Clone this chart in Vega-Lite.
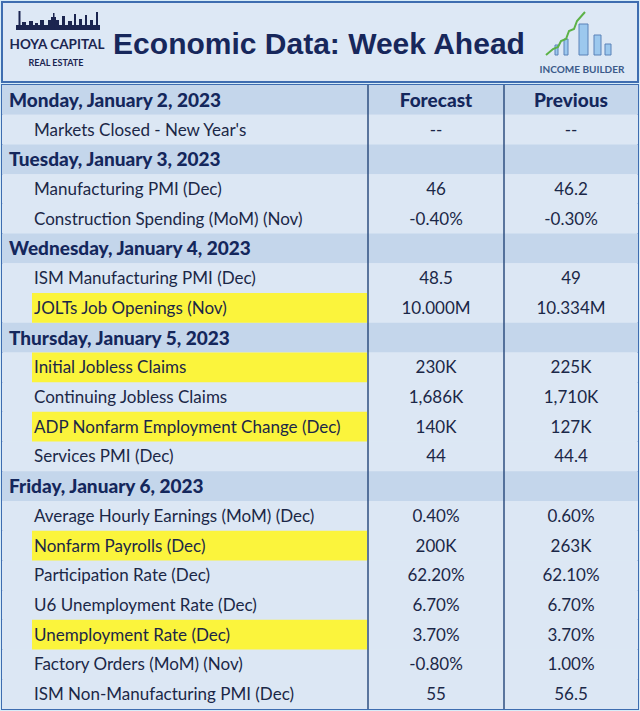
{
  "$schema": "https://vega.github.io/schema/vega-lite/v6.json",
  "background": "#d7ecf8",
  "padding": {"left": 1, "top": 1, "right": 3, "bottom": 6},
  "spacing": 0,
  "config": {
    "view": {"fill": "#dde8f5", "stroke": "#3e6db0", "strokeWidth": 2},
    "concat": {"spacing": 0}
  },
  "datasets": {
    "skyline": [
      {"x": 14, "x2": 98, "top": 23, "bottom": 28},
      {"x": 16.5, "x2": 18.5, "top": 9, "bottom": 28},
      {"x": 20, "x2": 24, "top": 20, "bottom": 28},
      {"x": 27, "x2": 31, "top": 19, "bottom": 28},
      {"x": 33, "x2": 36, "top": 21, "bottom": 28},
      {"x": 38, "x2": 42, "top": 18, "bottom": 28},
      {"x": 46, "x2": 57, "top": 18, "bottom": 28},
      {"x": 49, "x2": 54, "top": 15, "bottom": 28},
      {"x": 51, "x2": 52.5, "top": 11, "bottom": 28},
      {"x": 60, "x2": 63, "top": 14, "bottom": 28},
      {"x": 66, "x2": 70, "top": 19, "bottom": 28},
      {"x": 72, "x2": 74, "top": 12, "bottom": 28},
      {"x": 77, "x2": 80, "top": 17, "bottom": 28},
      {"x": 83, "x2": 85, "top": 13, "bottom": 28},
      {"x": 88, "x2": 91, "top": 18, "bottom": 28},
      {"x": 94, "x2": 96, "top": 10, "bottom": 28}
    ],
    "buildings": [
      {"x": 553, "x2": 556, "top": 43, "bottom": 53},
      {"x": 562, "x2": 566, "top": 37, "bottom": 53},
      {"x": 577, "x2": 586, "top": 22, "bottom": 53},
      {"x": 592, "x2": 599, "top": 33, "bottom": 53},
      {"x": 603, "x2": 609, "top": 42, "bottom": 53}
    ],
    "arrow": [
      {"i": 0, "x": 544, "y": 53},
      {"i": 1, "x": 551, "y": 47},
      {"i": 2, "x": 556, "y": 45},
      {"i": 3, "x": 559, "y": 39},
      {"i": 4, "x": 564, "y": 37},
      {"i": 5, "x": 567, "y": 29},
      {"i": 6, "x": 572, "y": 27},
      {"i": 7, "x": 575, "y": 19},
      {"i": 8, "x": 583, "y": 10}
    ],
    "headerText": [
      {"t": "HOYA CAPITAL", "x": 55, "y": 47, "kind": "logo"},
      {"t": "REAL ESTATE", "x": 54, "y": 64, "kind": "sub"},
      {"t": "INCOME BUILDER", "x": 580, "y": 71, "kind": "ib"}
    ],
    "rows": [
      {"row": 0, "kind": "day", "hl": false, "label": "Monday, January 2, 2023", "forecast": "Forecast", "previous": "Previous"},
      {"row": 1, "kind": "item", "hl": false, "label": "Markets Closed - New Year's", "forecast": "--", "previous": "--"},
      {"row": 2, "kind": "day", "hl": false, "label": "Tuesday, January 3, 2023", "forecast": "", "previous": ""},
      {"row": 3, "kind": "item", "hl": false, "label": "Manufacturing PMI (Dec)", "forecast": "46", "previous": "46.2"},
      {"row": 4, "kind": "item", "hl": false, "label": "Construction Spending (MoM) (Nov)", "forecast": "-0.40%", "previous": "-0.30%"},
      {"row": 5, "kind": "day", "hl": false, "label": "Wednesday, January 4, 2023", "forecast": "", "previous": ""},
      {"row": 6, "kind": "item", "hl": false, "label": "ISM Manufacturing PMI (Dec)", "forecast": "48.5", "previous": "49"},
      {"row": 7, "kind": "item", "hl": true, "label": "JOLTs Job Openings (Nov)", "forecast": "10.000M", "previous": "10.334M"},
      {"row": 8, "kind": "day", "hl": false, "label": "Thursday, January 5, 2023", "forecast": "", "previous": ""},
      {"row": 9, "kind": "item", "hl": true, "label": "Initial Jobless Claims", "forecast": "230K", "previous": "225K"},
      {"row": 10, "kind": "item", "hl": false, "label": "Continuing Jobless Claims", "forecast": "1,686K", "previous": "1,710K"},
      {"row": 11, "kind": "item", "hl": true, "label": "ADP Nonfarm Employment Change (Dec)", "forecast": "140K", "previous": "127K"},
      {"row": 12, "kind": "item", "hl": false, "label": "Services PMI (Dec)", "forecast": "44", "previous": "44.4"},
      {"row": 13, "kind": "day", "hl": false, "label": "Friday, January 6, 2023", "forecast": "", "previous": ""},
      {"row": 14, "kind": "item", "hl": false, "label": "Average Hourly Earnings (MoM) (Dec)", "forecast": "0.40%", "previous": "0.60%"},
      {"row": 15, "kind": "item", "hl": true, "label": "Nonfarm Payrolls (Dec)", "forecast": "200K", "previous": "263K"},
      {"row": 16, "kind": "item", "hl": false, "label": "Participation Rate (Dec)", "forecast": "62.20%", "previous": "62.10%"},
      {"row": 17, "kind": "item", "hl": false, "label": "U6 Unemployment Rate (Dec)", "forecast": "6.70%", "previous": "6.70%"},
      {"row": 18, "kind": "item", "hl": true, "label": "Unemployment Rate (Dec)", "forecast": "3.70%", "previous": "3.70%"},
      {"row": 19, "kind": "item", "hl": false, "label": "Factory Orders (MoM) (Nov)", "forecast": "-0.80%", "previous": "1.00%"},
      {"row": 20, "kind": "item", "hl": false, "label": "ISM Non-Manufacturing PMI (Dec)", "forecast": "55", "previous": "56.5"}
    ]
  },
  "vconcat": [
    {
      "width": 636,
      "height": 80,
      "layer": [
        {
          "data": {"name": "skyline"},
          "mark": {"type": "rect", "color": "#1b2550"},
          "encoding": {
            "x": {"field": "x", "type": "quantitative", "scale": {"domain": [0, 636], "nice": false, "zero": false}, "axis": null},
            "x2": {"field": "x2"},
            "y": {"field": "top", "type": "quantitative", "scale": {"domain": [0, 80], "nice": false, "zero": false, "reverse": true}, "axis": null},
            "y2": {"field": "bottom"}
          }
        },
        {
          "data": {"name": "buildings"},
          "mark": {"type": "rect", "color": "#9cc8ee", "stroke": "#5b82b8", "strokeWidth": 1},
          "encoding": {
            "x": {"field": "x", "type": "quantitative", "scale": {"domain": [0, 636], "nice": false, "zero": false}, "axis": null},
            "x2": {"field": "x2"},
            "y": {"field": "top", "type": "quantitative", "scale": {"domain": [0, 80], "nice": false, "zero": false, "reverse": true}, "axis": null},
            "y2": {"field": "bottom"}
          }
        },
        {
          "data": {"name": "arrow"},
          "mark": {"type": "line", "color": "#5cb247", "strokeWidth": 2},
          "encoding": {
            "x": {"field": "x", "type": "quantitative", "scale": {"domain": [0, 636], "nice": false, "zero": false}, "axis": null},
            "y": {"field": "y", "type": "quantitative", "scale": {"domain": [0, 80], "nice": false, "zero": false, "reverse": true}, "axis": null},
            "order": {"field": "i"}
          }
        },
        {
          "data": {"name": "headerText"},
          "transform": [{"filter": "datum.kind == 'logo'"}],
          "mark": {"type": "text", "font": "Lato, sans-serif", "fontSize": 13.5, "fontWeight": "bold", "color": "#1b2550", "align": "center", "baseline": "alphabetic"},
          "encoding": {
            "x": {"field": "x", "type": "quantitative", "scale": {"domain": [0, 636], "nice": false, "zero": false}, "axis": null},
            "y": {"field": "y", "type": "quantitative", "scale": {"domain": [0, 80], "nice": false, "zero": false, "reverse": true}, "axis": null},
            "text": {"field": "t"}
          }
        },
        {
          "data": {"name": "headerText"},
          "transform": [{"filter": "datum.kind == 'sub'"}],
          "mark": {"type": "text", "font": "Lato, sans-serif", "fontSize": 9, "fontWeight": "bold", "color": "#1b2550", "align": "center", "baseline": "alphabetic"},
          "encoding": {
            "x": {"field": "x", "type": "quantitative", "scale": {"domain": [0, 636], "nice": false, "zero": false}, "axis": null},
            "y": {"field": "y", "type": "quantitative", "scale": {"domain": [0, 80], "nice": false, "zero": false, "reverse": true}, "axis": null},
            "text": {"field": "t"}
          }
        },
        {
          "data": {"name": "headerText"},
          "transform": [{"filter": "datum.kind == 'ib'"}],
          "mark": {"type": "text", "font": "Lato, sans-serif", "fontSize": 10, "fontWeight": "bold", "color": "#3b5a8a", "align": "center", "baseline": "alphabetic"},
          "encoding": {
            "x": {"field": "x", "type": "quantitative", "scale": {"domain": [0, 636], "nice": false, "zero": false}, "axis": null},
            "y": {"field": "y", "type": "quantitative", "scale": {"domain": [0, 80], "nice": false, "zero": false, "reverse": true}, "axis": null},
            "text": {"field": "t"}
          }
        },
        {
          "data": {"values": [{"t": "Economic Data: Week Ahead", "x": 317, "y": 52}]},
          "mark": {"type": "text", "font": "Liberation Sans, Arial, sans-serif", "fontSize": 30, "fontWeight": "bold", "color": "#17275b", "align": "center", "baseline": "alphabetic"},
          "encoding": {
            "x": {"field": "x", "type": "quantitative", "scale": {"domain": [0, 636], "nice": false, "zero": false}, "axis": null},
            "y": {"field": "y", "type": "quantitative", "scale": {"domain": [0, 80], "nice": false, "zero": false, "reverse": true}, "axis": null},
            "text": {"field": "t"}
          }
        }
      ]
    },
    {
      "width": 636,
      "height": 624,
      "data": {"name": "rows"},
      "encoding": {
        "y": {"field": "row", "type": "ordinal", "scale": {"paddingInner": 0, "paddingOuter": 0}, "axis": null}
      },
      "layer": [
        {
          "mark": {"type": "rect"},
          "encoding": {
            "x": {"datum": 0, "type": "quantitative", "scale": {"domain": [0, 636], "nice": false, "zero": false}, "axis": null},
            "x2": {"datum": 636},
            "color": {"field": "kind", "type": "nominal", "scale": {"domain": ["day", "item"], "range": ["#c4d6eb", "#dce7f4"]}, "legend": null}
          }
        },
        {
          "transform": [{"filter": "datum.hl"}],
          "mark": {"type": "rect", "color": "#fbf43c"},
          "encoding": {
            "x": {"datum": 30, "type": "quantitative"},
            "x2": {"datum": 365}
          }
        },
        {
          "data": {"values": [{"c": 366}, {"c": 502}]},
          "mark": {"type": "rule", "color": "#2f4f80", "strokeWidth": 1.5},
          "encoding": {
            "x": {"field": "c", "type": "quantitative"},
            "y": null
          }
        },
        {
          "transform": [{"filter": "datum.kind == 'day'"}],
          "mark": {"type": "text", "font": "Lato, sans-serif", "fontSize": 19, "fontWeight": 900, "color": "#14275c", "align": "left", "baseline": "middle", "dy": 1},
          "encoding": {
            "x": {"datum": 7, "type": "quantitative"},
            "text": {"field": "label"}
          }
        },
        {
          "transform": [{"filter": "datum.kind == 'item'"}],
          "mark": {"type": "text", "font": "Lato, sans-serif", "fontSize": 17, "color": "#1b2747", "align": "left", "baseline": "middle", "dy": 1},
          "encoding": {
            "x": {"datum": 32, "type": "quantitative"},
            "text": {"field": "label"}
          }
        },
        {
          "transform": [{"filter": "datum.kind == 'day'"}],
          "mark": {"type": "text", "font": "Lato, sans-serif", "fontSize": 19, "fontWeight": 900, "color": "#14275c", "align": "center", "baseline": "middle", "dy": 1},
          "encoding": {
            "x": {"datum": 434, "type": "quantitative"},
            "text": {"field": "forecast"}
          }
        },
        {
          "transform": [{"filter": "datum.kind == 'day'"}],
          "mark": {"type": "text", "font": "Lato, sans-serif", "fontSize": 19, "fontWeight": 900, "color": "#14275c", "align": "center", "baseline": "middle", "dy": 1},
          "encoding": {
            "x": {"datum": 569, "type": "quantitative"},
            "text": {"field": "previous"}
          }
        },
        {
          "transform": [{"filter": "datum.kind == 'item'"}],
          "mark": {"type": "text", "font": "Lato, sans-serif", "fontSize": 17, "color": "#1b2747", "align": "center", "baseline": "middle", "dy": 1},
          "encoding": {
            "x": {"datum": 434, "type": "quantitative"},
            "text": {"field": "forecast"}
          }
        },
        {
          "transform": [{"filter": "datum.kind == 'item'"}],
          "mark": {"type": "text", "font": "Lato, sans-serif", "fontSize": 17, "color": "#1b2747", "align": "center", "baseline": "middle", "dy": 1},
          "encoding": {
            "x": {"datum": 569, "type": "quantitative"},
            "text": {"field": "previous"}
          }
        }
      ]
    }
  ]
}
